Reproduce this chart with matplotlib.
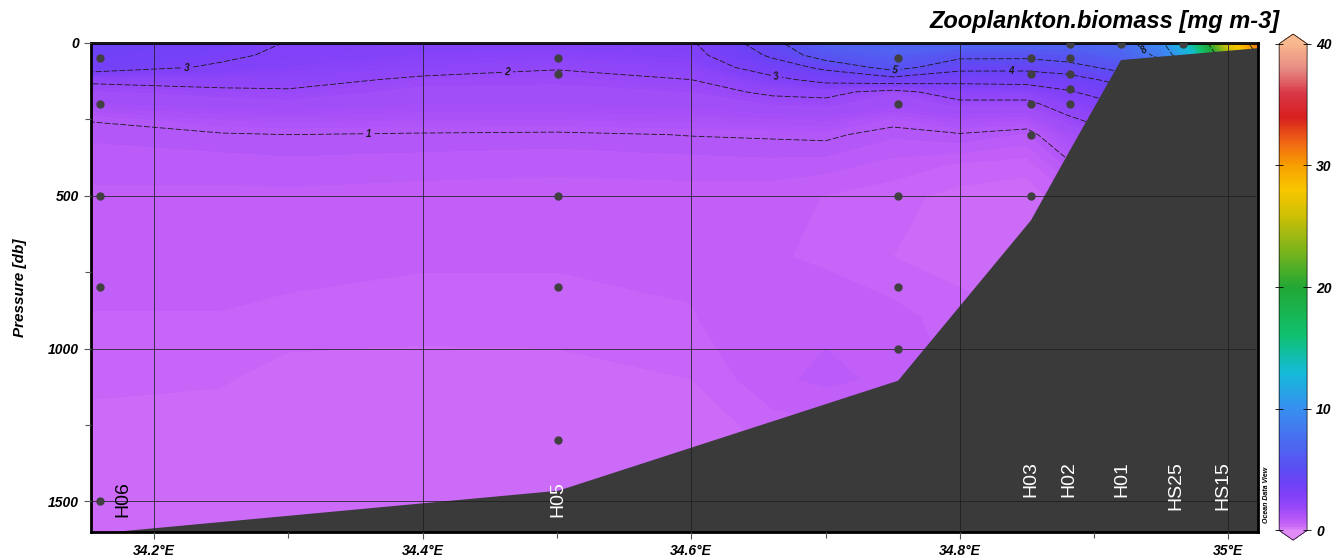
import numpy as np
import matplotlib
matplotlib.use("Agg")
import matplotlib.pyplot as plt
from matplotlib.colors import LinearSegmentedColormap, Normalize
from matplotlib.cm import ScalarMappable

plt.rcParams['font.family'] = ['Liberation Sans', 'DejaVu Sans']

# grid (values in mg m-3)
grid_lon = [34.153, 34.25, 34.30, 34.40, 34.50, 34.60, 34.66, 34.70, 34.75,
            34.80, 34.85, 34.88, 34.92, 34.95, 34.975, 35.00, 35.022]
grid_depth = [0, 40, 80, 120, 160, 200, 250, 300, 400, 500, 700, 900, 1100, 1300, 1600]
biomass = [
    [3.9, 3.5, 2.95, 2.7, 2.75, 2.9, 4.6, 6.5, 6.8, 7.0, 7.0, 6.8, 7.2, 9.5, 15.5, 27.0, 31.5],
    [3.75, 3.2, 2.8, 2.6, 2.5, 2.7, 4.15, 5.6, 6.3, 5.3, 5.3, 5.6, 6.5, 8.5, 13.0, 24.0, 30.0],
    [3.5, 2.85, 2.6, 2.35, 2.05, 2.4, 3.5, 4.2, 5.4, 4.3, 4.25, 4.5, 5.4, 7.0, 10.0, 18.0, 24.0],
    [2.15, 2.3, 2.3, 1.85, 1.8, 2.0, 2.75, 3.3, 3.6, 3.3, 3.4, 3.6, 4.3, 5.5, 8.0, 12.0, 16.0],
    [1.7, 1.85, 1.9, 1.65, 1.65, 1.75, 2.12, 2.2, 1.75, 2.4, 2.4, 2.9, 3.6, 4.5, 6.0, 9.0, 12.0],
    [1.45, 1.6, 1.65, 1.5, 1.5, 1.55, 1.75, 1.8, 1.6, 1.8, 1.8, 2.4, 3.0, 3.8, 5.0, 7.0, 9.0],
    [1.02, 1.25, 1.3, 1.25, 1.25, 1.3, 1.35, 1.4, 1.1, 1.35, 1.25, 1.85, 2.5, 3.0, 4.0, 5.0, 6.0],
    [0.9, 0.97, 1.0, 0.97, 0.95, 1.01, 1.03, 1.05, 0.9, 0.97, 0.85, 1.4, 2.0, 2.5, 3.0, 4.0, 5.0],
    [0.8, 0.8, 0.82, 0.8, 0.78, 0.8, 0.82, 0.8, 0.7, 0.6, 0.55, 0.9, 1.4, 1.8, 2.0, 3.0, 3.5],
    [0.72, 0.72, 0.72, 0.7, 0.7, 0.7, 0.68, 0.62, 0.55, 0.45, 0.42, 0.6, 1.0, 1.2, 1.5, 2.0, 2.5],
    [0.66, 0.66, 0.66, 0.64, 0.64, 0.64, 0.64, 0.6, 0.5, 0.45, 0.45, 0.5, 0.8, 0.9, 1.0, 1.2, 1.5],
    [0.62, 0.62, 0.6, 0.58, 0.58, 0.62, 0.68, 0.72, 0.68, 0.55, 0.5, 0.5, 0.6, 0.7, 0.8, 0.9, 1.0],
    [0.55, 0.52, 0.42, 0.4, 0.42, 0.5, 0.72, 0.78, 0.72, 0.6, 0.55, 0.5, 0.5, 0.6, 0.6, 0.7, 0.8],
    [0.4, 0.38, 0.38, 0.37, 0.38, 0.42, 0.52, 0.55, 0.5, 0.5, 0.5, 0.5, 0.5, 0.5, 0.5, 0.5, 0.6],
    [0.35, 0.33, 0.33, 0.33, 0.35, 0.35, 0.4, 0.4, 0.4, 0.4, 0.4, 0.4, 0.4, 0.4, 0.4, 0.4, 0.4],
]

# bathymetry
bathy_lon = [34.17, 34.501, 34.754, 34.853, 34.882, 34.92, 35.03]
bathy_depth = [1600, 1465, 1105, 580, 351, 56, 14]

# sample positions
sample_lon = ([34.16] * 5 + [34.501] * 5 + [34.754] * 5 + [34.853] * 5
              + [34.882] * 5 + [34.92, 34.966])
sample_depth = ([50, 200, 500, 800, 1500] + [50, 100, 500, 800, 1300]
                + [50, 200, 500, 800, 1000] + [50, 100, 200, 300, 500]
                + [5, 50, 100, 150, 200] + [5, 5])

station_names = ['H06', 'H05', 'H03', 'H02', 'H01', 'HS25', 'HS15']
station_lon = [34.177, 34.501, 34.853, 34.881, 34.921, 34.961, 34.996]

contour_levels = [1, 2, 3, 4, 5, 8, 10, 20, 30]

# ODV-like colour scale
cmap = LinearSegmentedColormap.from_list('odv', [
    (0 / 40, '#d884f8'), (0.3 / 40, '#cc6cf8'), (0.6 / 40, '#c260f8'),
    (1 / 40, '#b256f8'), (2 / 40, '#9446f8'), (3 / 40, '#7c40f8'),
    (4 / 40, '#6a42f6'), (5 / 40, '#5c4ef2'), (7 / 40, '#4c68f0'),
    (10 / 40, '#3690f0'), (13 / 40, '#14bcd8'), (16 / 40, '#10c070'),
    (20 / 40, '#22a834'), (23 / 40, '#7cb41c'), (26 / 40, '#d0c004'),
    (28 / 40, '#f8c600'), (30 / 40, '#f8a000'), (32 / 40, '#f06414'),
    (34 / 40, '#d82020'), (36 / 40, '#d83848'), (38 / 40, '#e88c84'),
    (40 / 40, '#f8b48c')])
cmap.set_under('#e08cf8')
cmap.set_over('#f8b890')

fig = plt.figure(figsize=(13.38, 5.58), dpi=100)
ax = fig.add_axes([0.068, 0.0466, 0.8722, 0.8764])

Z = np.array(biomass)
ax.contourf(grid_lon, grid_depth, Z, levels=np.linspace(0, 40, 321),
            cmap=cmap, extend='both', zorder=0.5)
cs = ax.contour(grid_lon, grid_depth, Z, levels=contour_levels,
                colors='#1a1a1a', linewidths=0.6, zorder=1)
cs.set_linestyle((0, (7, 2.5)))
lbls = ax.clabel(cs, levels=[1, 2, 3, 4, 5, 8], fmt='%d', fontsize=7,
                 inline=True, inline_spacing=3,
                 manual=[(34.36, 295), (34.463, 88), (34.224, 85),
                         (34.663, 121), (34.752, 92), (34.838, 88), (34.94, 10)])
for t in lbls:
    t.set_fontweight('bold')
    t.set_fontstyle('italic')

ax.fill(bathy_lon + [35.03, 34.17], bathy_depth + [1610, 1610],
        color='#3a3a3a', lw=0, zorder=2)

ax.plot(sample_lon, sample_depth, 'o', color='#404040', ms=5, zorder=3)

for i, name in enumerate(station_names):
    if name in ('H06', 'H05'):
        d = 1433
    else:
        d = 1368
    ax.text(station_lon[i], d, name, rotation=90, ha='center', va='top',
            fontsize=14, color='black' if name == 'H06' else 'white', zorder=4)

ax.set_xlim(34.153, 35.022)
ax.set_ylim(1600, 0)
ax.set_xticks([34.2, 34.4, 34.6, 34.8, 35.0])
ax.set_xticklabels(['34.2°E', '34.4°E', '34.6°E', '34.8°E', '35°E'])
ax.set_xticks([34.3, 34.5, 34.7, 34.9], minor=True)
ax.set_yticks([0, 500, 1000, 1500])
ax.set_yticks([250, 750, 1250], minor=True)
ax.tick_params(which='both', direction='out', length=5, width=0.8, color='#555')
ax.tick_params(which='minor', length=4)
for lab in ax.get_xticklabels() + ax.get_yticklabels():
    lab.set_fontweight('bold')
    lab.set_fontstyle('italic')
    lab.set_fontsize(10)
ax.set_axisbelow(False)
ax.grid(True, which='major', color='#1e1e1e', lw=0.7, alpha=0.8)
for s in ax.spines.values():
    s.set_linewidth(2)
ax.set_ylabel('Pressure [db]', fontsize=11, fontweight='bold', fontstyle='italic')
ax.yaxis.set_label_coords(-0.055, 0.5)

cax = fig.add_axes([0.956, 0.032, 0.0209, 0.907])
sm = ScalarMappable(norm=Normalize(0, 40), cmap=cmap)
cb = fig.colorbar(sm, cax=cax, extend='both', extendfrac=0.02,
                  ticks=[0, 10, 20, 30, 40])
cb.outline.set_linewidth(0.5)
cax.tick_params(direction='inout', length=6, width=0.6, left=True, right=True)
for lab in cax.get_yticklabels():
    lab.set_fontweight('bold')
    lab.set_fontstyle('italic')
    lab.set_fontsize(10)

fig.text(0.9566, 0.962, 'Zooplankton.biomass [mg m-3]', ha='right', va='center',
         fontsize=17, fontweight='bold', fontstyle='italic')
fig.text(1267 / 1338, 1 - 495 / 558, 'Ocean Data View', rotation=90,
         ha='center', va='center', fontsize=5, fontweight='bold', fontstyle='italic')

fig.savefig('out.png', dpi=100)
